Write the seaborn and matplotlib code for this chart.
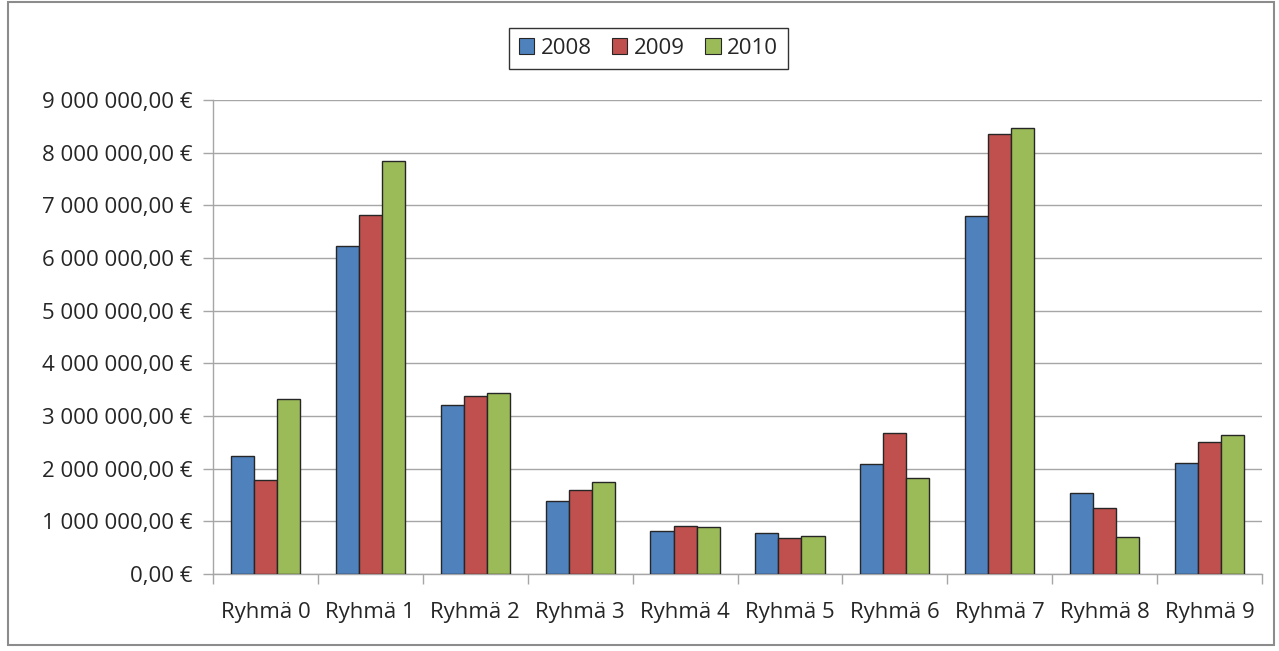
import matplotlib
matplotlib.use("Agg")
import matplotlib.pyplot as plt
import matplotlib.patches as mpatches
from matplotlib.ticker import FuncFormatter, MultipleLocator, FixedLocator
import seaborn as sns
import pandas as pd
import numpy as np

# data (euros)
groups = ["Ryhmä 0", "Ryhmä 1", "Ryhmä 2", "Ryhmä 3", "Ryhmä 4",
          "Ryhmä 5", "Ryhmä 6", "Ryhmä 7", "Ryhmä 8", "Ryhmä 9"]
years = ["2008", "2009", "2010"]
v2008 = [2240000, 6220000, 3210000, 1380000, 820000, 770000, 2080000, 6800000, 1540000, 2110000]
v2009 = [1780000, 6820000, 3380000, 1590000, 910000, 680000, 2670000, 8350000, 1260000, 2510000]
v2010 = [3320000, 7850000, 3440000, 1750000, 890000, 720000, 1820000, 8460000, 700000, 2630000]
colors = ["#4F81BD", "#C0504D", "#9BBB59"]

df = pd.DataFrame({
    "group": groups * 3,
    "year": [y for y in years for _ in groups],
    "value": v2008 + v2009 + v2010,
})

sns.set_style("white")
plt.rcParams["font.family"] = ["Open Sans", "DejaVu Sans"]
fs = 16

fig = plt.figure(figsize=(12.79, 6.51), dpi=100)
ax = fig.add_axes([213 / 1279, 1 - 574 / 651, (1262 - 213) / 1279, (574 - 100) / 651])

sns.barplot(data=df, x="group", y="value", hue="year", palette=colors,
            saturation=1, width=0.66, edgecolor="#262626", linewidth=1.0,
            ax=ax, legend=False, zorder=3)

ax.set_ylim(0, 9000000)
ax.set_xlim(-0.5, len(groups) - 0.5)
ax.yaxis.set_major_locator(MultipleLocator(1000000))
ax.yaxis.set_major_formatter(FuncFormatter(
    lambda v, p: "{:,.2f}".format(v).replace(",", " ").replace(".", ",") + " €"))
ax.yaxis.grid(True, color="#A6A6A6", linewidth=1.0, zorder=0)
ax.set_axisbelow(True)
ax.set_xlabel("")
ax.set_ylabel("")

for s in ["top", "right"]:
    ax.spines[s].set_visible(False)
for s in ["left", "bottom"]:
    ax.spines[s].set_color("#A6A6A6")
    ax.spines[s].set_linewidth(1.0)

ax.tick_params(axis="y", which="major", direction="out", length=7, width=1,
               color="#A6A6A6", labelsize=fs, pad=8, left=True)
ax.xaxis.set_minor_locator(FixedLocator(np.arange(-0.5, len(groups), 1.0)))
ax.tick_params(axis="x", which="major", length=0, labelsize=fs, pad=20)
ax.tick_params(axis="x", which="minor", direction="out", length=7, width=1,
               color="#A6A6A6", bottom=True)

handles = [mpatches.Patch(facecolor=c, edgecolor="#262626", linewidth=0.8, label=y)
           for c, y in zip(colors, years)]
leg = fig.legend(handles=handles, loc="center", bbox_to_anchor=(648.5 / 1279, 1 - 48 / 651),
                 ncol=3, fontsize=fs, frameon=True, fancybox=False, handlelength=0.7,
                 handleheight=0.7, handletextpad=0.3, columnspacing=0.9,
                 borderpad=0.45, borderaxespad=0)
leg.get_frame().set_edgecolor("#000000")
leg.get_frame().set_linewidth(1.0)

# outer chart border
fig.patches.append(mpatches.Rectangle((8 / 1279, 6 / 651), 1266 / 1279, 643 / 651,
                                      transform=fig.transFigure, fill=False,
                                      edgecolor="#8C8C8C", linewidth=1.5))

fig.savefig("out.png", dpi=100)
